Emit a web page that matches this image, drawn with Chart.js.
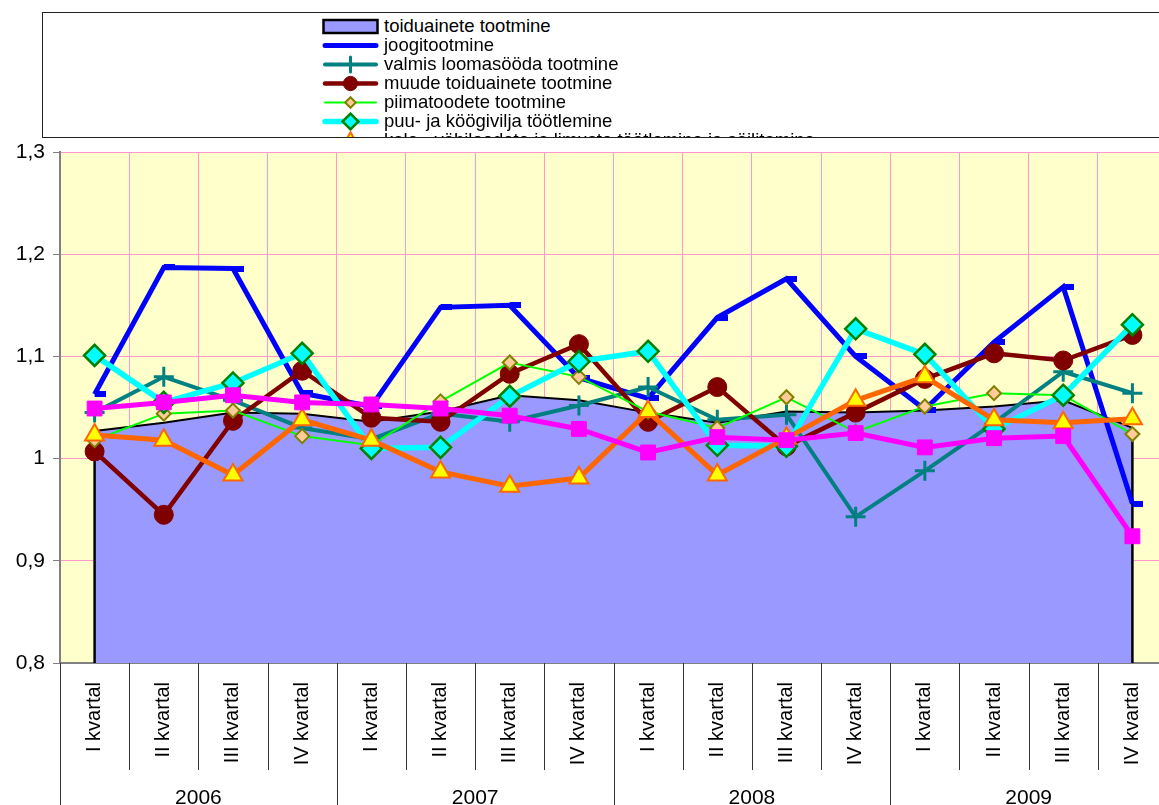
<!DOCTYPE html>
<html lang="et">
<head>
    <meta charset="utf-8">
    <title>Tootmise indeksid kvartalite kaupa</title>
    <script src="https://cdn.jsdelivr.net/npm/chart.js@4.4.0/dist/chart.umd.min.js"></script>
    <style>
        body { margin: 0; background: #fff; overflow: hidden; font-family: "Liberation Sans", Arial, sans-serif; }
        #wrap { position: absolute; left: 0; top: 0; width: 1180px; height: 805px; }
        #legend {
            position: absolute; left: 42px; top: 12px; width: 1140px; height: 124px;
            border: 1px solid #222; border-right: none; overflow: hidden; background: #fff;
        }
        .row { position: absolute; left: 279px; height: 19px; display: flex; align-items: center; white-space: nowrap; }
        .row span { font-size: 18.5px; margin-left: 5px; color: #000; }
    </style>
</head>
<body>
<div id="wrap"><canvas id="chart"></canvas></div>
<div id="legend"></div>
<script>
    const quarters = ['I kvartal', 'II kvartal', 'III kvartal', 'IV kvartal'];
    const years = ['2006', '2007', '2008', '2009'];
    const labels = [];
    years.forEach(() => quarters.forEach(q => labels.push(q)));

    const yTicks = [0.8, 0.9, 1.0, 1.1, 1.2, 1.3];

    const toiduained = [1.027, 1.035, 1.045, 1.044, 1.036, 1.046, 1.062, 1.057, 1.045, 1.035, 1.046, 1.045, 1.047, 1.051, 1.057, 1.030];
    const joogid = [1.063, 1.187, 1.186, 1.064, 1.051, 1.148, 1.150, 1.079, 1.059, 1.138, 1.176, 1.100, 1.048, 1.114, 1.168, 0.956];
    const loomasoot = [1.045, 1.080, 1.057, 1.030, 1.019, 1.044, 1.036, 1.052, 1.070, 1.038, 1.043, 0.943, 0.988, 1.035, 1.085, 1.064];
    const muudToit = [1.007, 0.945, 1.037, 1.086, 1.040, 1.036, 1.083, 1.112, 1.036, 1.070, 1.012, 1.045, 1.078, 1.103, 1.096, 1.121];
    const piim = [1.018, 1.044, 1.047, 1.022, 1.013, 1.056, 1.094, 1.080, 1.046, 1.030, 1.060, 1.026, 1.051, 1.064, 1.062, 1.024];
    const puuvili = [1.101, 1.055, 1.074, 1.103, 1.010, 1.011, 1.061, 1.095, 1.105, 1.013, 1.012, 1.127, 1.102, 1.029, 1.062, 1.131];
    const kala = [1.023, 1.018, 0.984, 1.038, 1.018, 0.987, 0.973, 0.981, 1.046, 0.984, 1.020, 1.057, 1.080, 1.038, 1.035, 1.039];
    const muudTootmine = [1.049, 1.055, 1.062, 1.055, 1.053, 1.049, 1.042, 1.029, 1.006, 1.021, 1.018, 1.025, 1.011, 1.020, 1.022, 0.924];

    const font = '"Liberation Sans", Arial, sans-serif';

    // excel style dash marker: short bar to the right of the point
    const dash = document.createElement('canvas');
    dash.width = 22; dash.height = 6;
    (function () {
        const c = dash.getContext('2d');
        c.fillStyle = '#0000FF';
        c.fillRect(11, 0, 11, 6);
    })();

    const series = [
        {label: 'toiduainete tootmine', data: toiduained, area: true},
        {label: 'joogitootmine', data: joogid, color: '#0000FF', width: 5, style: dash, radius: 6},
        {label: 'valmis loomasööda tootmine', data: loomasoot, color: '#008080', width: 4, style: 'cross', radius: 10, fill: '#008080', border: '#008080', bw: 3},
        {label: 'muude toiduainete tootmine', data: muudToit, color: '#800000', width: 4.5, style: 'circle', radius: 9.5, fill: '#800000', border: '#800000', bw: 1},
        {label: 'piimatoodete tootmine', data: piim, color: '#00FF00', width: 2, style: 'rectRot', radius: 7, fill: '#FFCC99', border: '#808000', bw: 2},
        {label: 'puu- ja köögivilja töötlemine', data: puuvili, color: '#00FFFF', width: 5.5, style: 'rectRot', radius: 10.5, fill: '#00FFFF', border: '#008000', bw: 2.5},
        {label: 'kala-, vähiloodete ja limuste töötlemine ja säilitamine', data: kala, color: '#FF6600', width: 5, style: 'triangle', radius: 11, fill: '#FFFF00', border: '#FF6600', bw: 2},
        {label: 'muude toodete tootmine', data: muudTootmine, color: '#FF00FF', width: 5, style: 'rect', radius: 10.5, fill: '#FF00FF', border: '#FF00FF', bw: 1}
    ];

    const datasets = series.map((s, i) => {
        if (s.area) {
            return {
                label: s.label, data: s.data, fill: 'start',
                backgroundColor: '#9999FF', borderColor: '#000', borderWidth: 2,
                pointRadius: 0, tension: 0, order: 100
            };
        }
        return {
            label: s.label, data: s.data, fill: false, tension: 0,
            borderColor: s.color, borderWidth: s.width,
            pointStyle: s.style, pointRadius: s.radius, pointHoverRadius: s.radius,
            pointBackgroundColor: s.fill || s.color, pointBorderColor: s.border || s.color,
            pointBorderWidth: s.bw || 1, order: -i
        };
    });

    const plotBg = {
        id: 'plotBg',
        beforeDraw(chart) {
            const {ctx, chartArea: a} = chart;
            ctx.save();
            ctx.fillStyle = '#FFFFCC';
            ctx.fillRect(a.left, a.top, a.right - a.left, a.bottom - a.top);
            ctx.restore();
        }
    };

    // vertical sides of the area series
    const areaSides = {
        id: 'areaSides',
        afterDatasetDraw(chart, args) {
            if (args.index !== 0) return;
            const pts = args.meta.data;
            const ctx = chart.ctx, bottom = chart.chartArea.bottom;
            ctx.save();
            ctx.strokeStyle = '#000';
            ctx.lineWidth = 2.5;
            [pts[0], pts[pts.length - 1]].forEach(p => {
                ctx.beginPath();
                ctx.moveTo(p.x, p.y);
                ctx.lineTo(p.x, bottom);
                ctx.stroke();
            });
            ctx.restore();
        }
    };

    // category separators and year row under the axis
    const yearAxis = {
        id: 'yearAxis',
        afterDraw(chart) {
            const {ctx, chartArea: a} = chart;
            const x = chart.scales.x;
            const step = x.getPixelForValue(1) - x.getPixelForValue(0);
            ctx.save();
            ctx.strokeStyle = '#333';
            ctx.lineWidth = 1;
            for (let i = 0; i <= labels.length; i++) {
                const px = Math.round(x.getPixelForValue(Math.min(i, labels.length - 1)) + (i < labels.length ? -step / 2 : step / 2)) + 0.5;
                ctx.beginPath();
                ctx.moveTo(px, a.bottom);
                ctx.lineTo(px, i % quarters.length === 0 ? chart.height : a.bottom + 107);
                ctx.stroke();
            }
            ctx.fillStyle = '#000';
            ctx.font = '21px ' + font;
            ctx.textAlign = 'center';
            ctx.textBaseline = 'middle';
            years.forEach((y, j) => {
                const cx = (x.getPixelForValue(j * 4) + x.getPixelForValue(j * 4 + 3)) / 2;
                ctx.fillText(y, cx, a.bottom + 135);
            });
            ctx.restore();
        }
    };

    new Chart(document.getElementById('chart'), {
        type: 'line',
        data: {labels: labels, datasets: datasets},
        options: {
            responsive: true,
            maintainAspectRatio: false,
            animation: false,
            layout: {padding: {top: 152, right: 1, left: 0, bottom: 0}},
            plugins: {legend: {display: false}, tooltip: {enabled: false}},
            scales: {
                x: {
                    offset: true,
                    grid: {offset: true, color: '#FF99CC', lineWidth: 1, drawTicks: false},
                    border: {display: true, color: '#808080', width: 2},
                    ticks: {
                        autoSkip: false, minRotation: 90, maxRotation: 90, padding: 19,
                        color: '#000', font: {family: font, size: 20}
                    },
                    afterFit(scale) { scale.height = 142; }
                },
                y: {
                    min: 0.8, max: 1.3,
                    afterBuildTicks(scale) { scale.ticks = yTicks.map(v => ({value: v})); },
                    grid: {color: '#FF99CC', lineWidth: 1, tickLength: 7, tickColor: '#808080'},
                    border: {display: true, color: '#808080', width: 2},
                    ticks: {
                        padding: 8, color: '#000', font: {family: font, size: 21},
                        callback: v => String(Math.round(v * 10) / 10).replace('.', ',')
                    },
                    afterFit(scale) { scale.width = 60; }
                }
            }
        },
        plugins: [plotBg, areaSides, yearAxis]
    });

    // legend box, clipped like in the source
    const legend = document.getElementById('legend');
    series.forEach((s, i) => {
        const row = document.createElement('div');
        row.className = 'row';
        row.style.top = (3.5 + i * 19) + 'px';
        const c = document.createElement('canvas');
        c.width = 57; c.height = 19;
        const g = c.getContext('2d');
        if (s.area) {
            g.fillStyle = '#9999FF';
            g.fillRect(1.5, 3, 54, 13);
            g.strokeStyle = '#000';
            g.lineWidth = 2.5;
            g.strokeRect(1.5, 3, 54, 13);
        } else {
            g.strokeStyle = s.color;
            g.lineWidth = s.width;
            g.lineCap = 'round';
            g.beginPath();
            g.moveTo(3, 9.5);
            g.lineTo(54, 9.5);
            g.stroke();
            if (typeof s.style === 'string') {
                g.fillStyle = s.fill;
                g.strokeStyle = s.border;
                g.lineWidth = s.bw;
                Chart.helpers.drawPoint(g, {pointStyle: s.style, radius: s.radius * 0.75, borderWidth: s.bw}, 28.5, 9.5);
            }
        }
        const t = document.createElement('span');
        t.textContent = s.label;
        row.appendChild(c);
        row.appendChild(t);
        legend.appendChild(row);
    });
</script>
</body>
</html>
